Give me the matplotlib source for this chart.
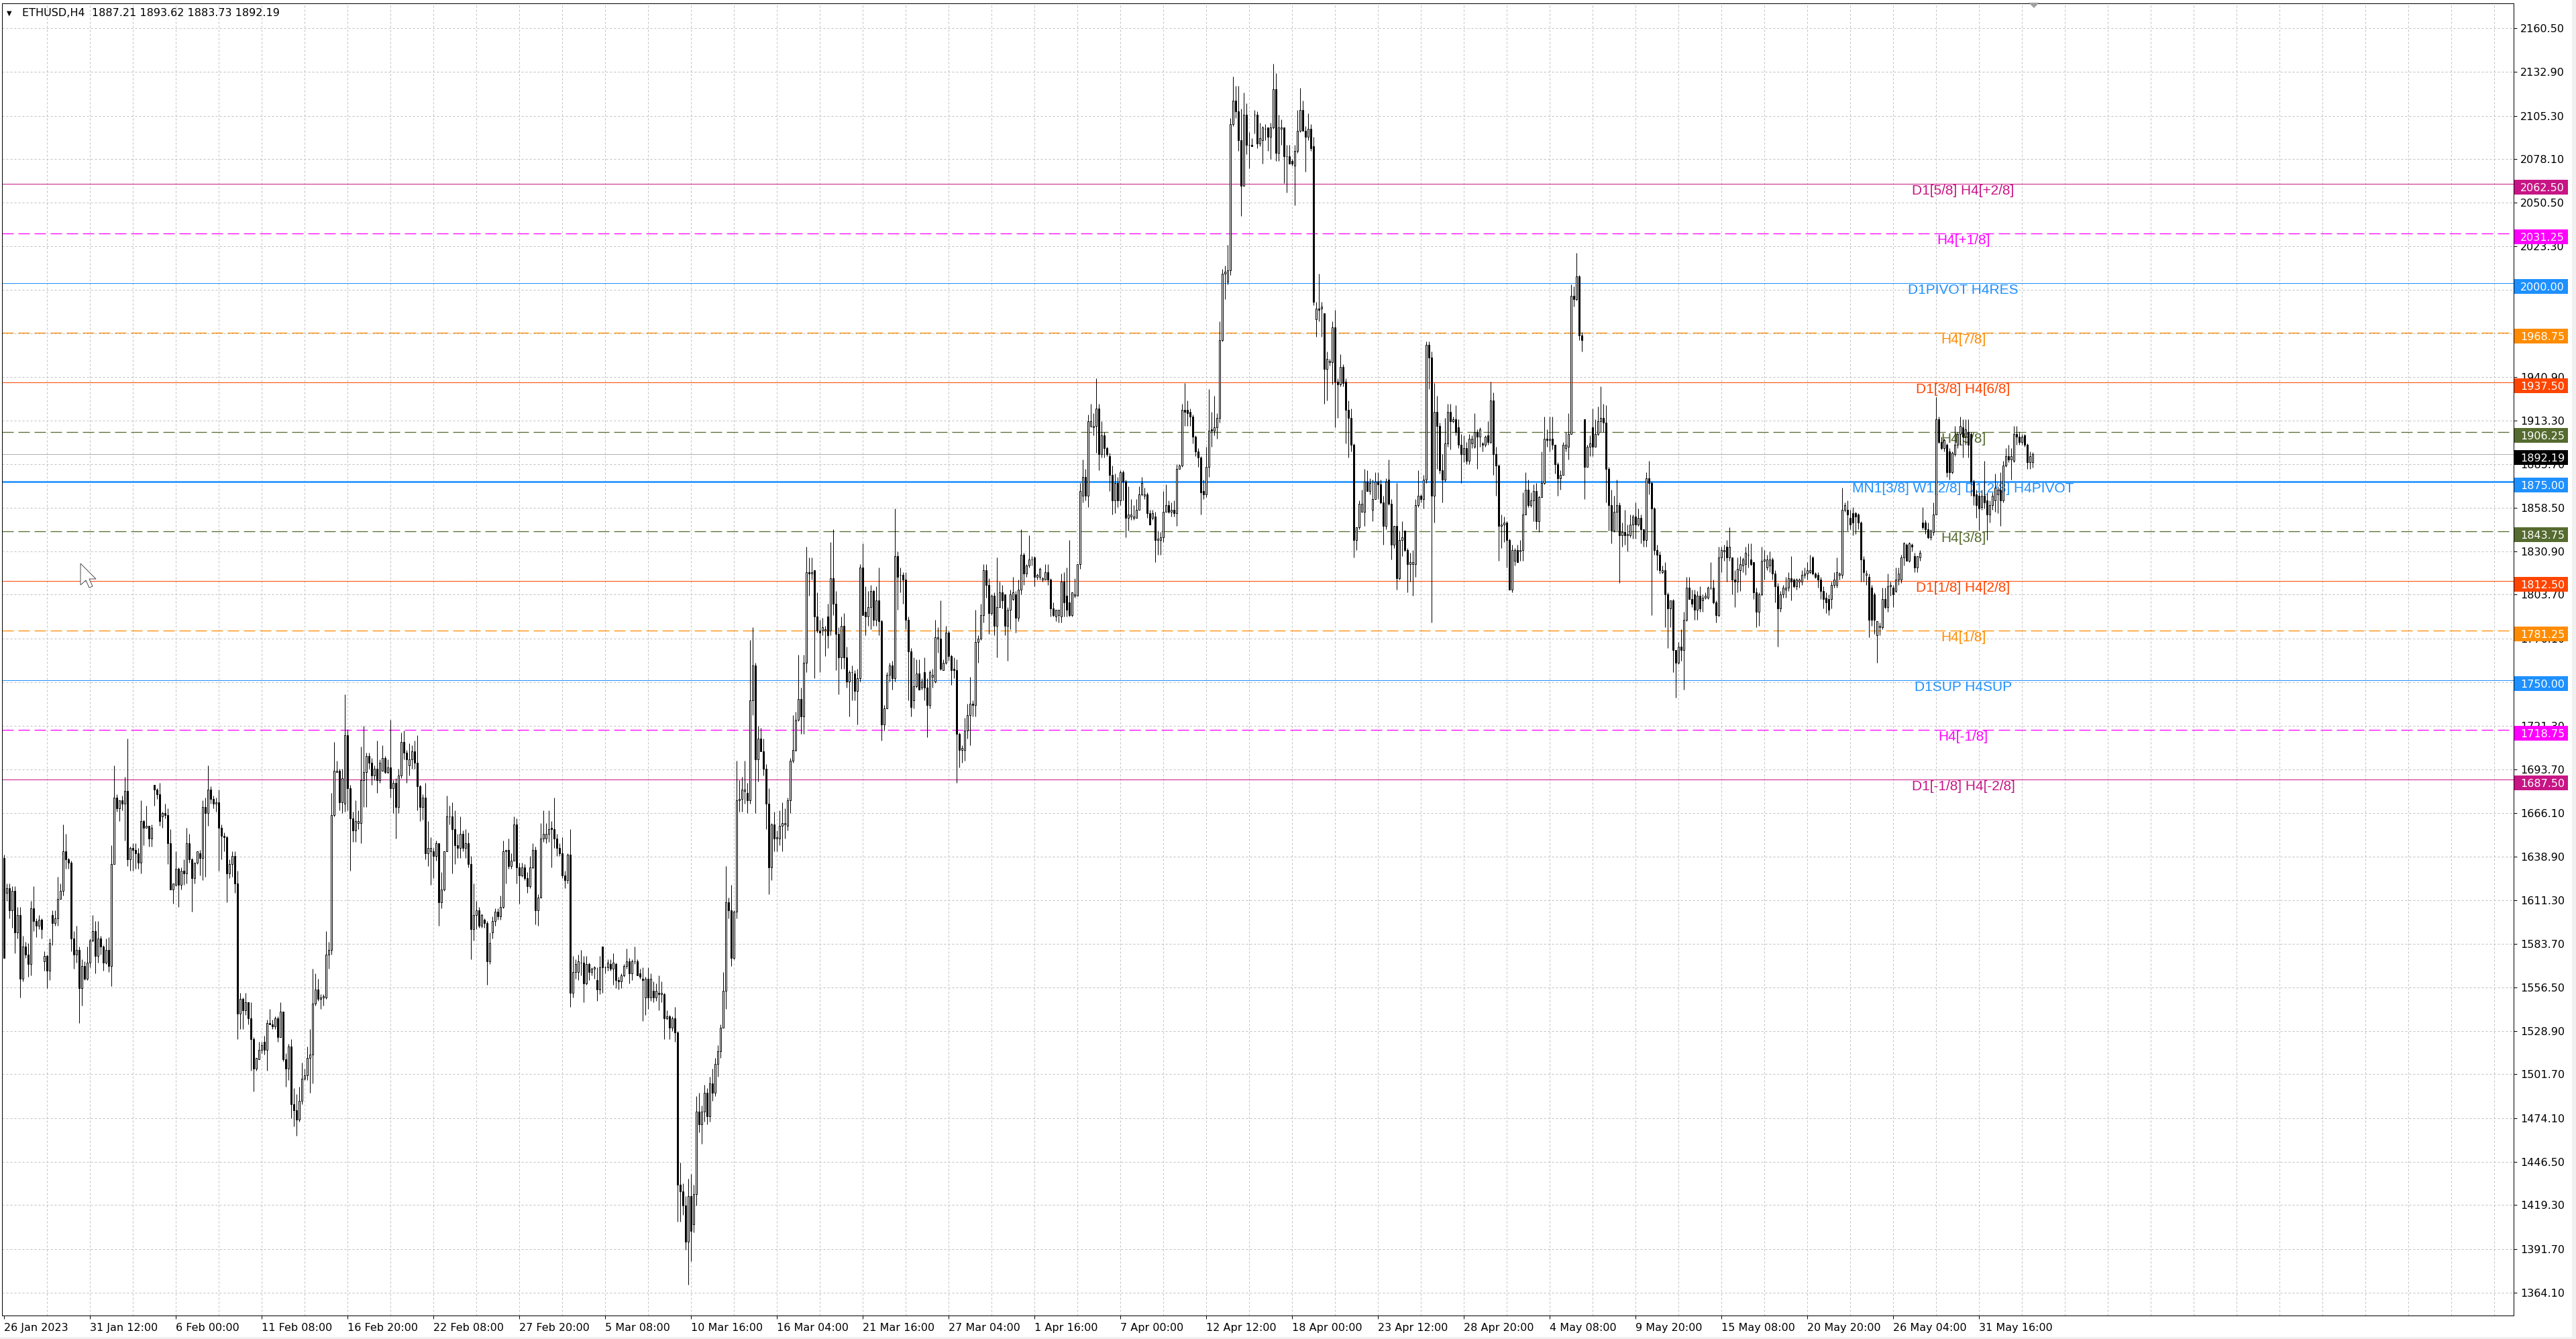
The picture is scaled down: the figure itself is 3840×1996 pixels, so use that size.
import numpy as np
import matplotlib
matplotlib.use('Agg')
import matplotlib.pyplot as plt
from matplotlib.patches import Rectangle, Polygon

plt.rcParams['lines.scale_dashes'] = False
plt.rcParams['font.family'] = ['DejaVu Sans']

# ETHUSD H4 candles (bar 0 = 26 Jan 2023 00:00)
opens = [
    1638,1616,1619,1605,1617,1591,1602,1562,1582,1577, 1571,1606,1598,1595,1599,1573,1576,1567,1602,1597,
    1600,1612,1617,1642,1637,1635,1587,1577,1580,1556, 1570,1562,1572,1586,1592,1576,1587,1582,1572,1580,
    1570,1634,1676,1669,1674,1672,1680,1637,1644,1643, 1641,1635,1661,1657,1658,1650,1684,1681,1678,1664,
    1666,1665,1647,1618,1621,1631,1621,1630,1628,1647, 1637,1625,1635,1641,1638,1670,1666,1681,1675,1672,
    1673,1657,1652,1651,1628,1634,1639,1622,1540,1549, 1542,1547,1537,1524,1505,1511,1517,1522,1517,1534,
    1533,1532,1537,1525,1541,1511,1505,1519,1483,1479, 1473,1485,1499,1501,1512,1514,1546,1555,1549,1550,
    1550,1577,1580,1665,1692,1693,1673,1672,1715,1682, 1663,1655,1660,1660,1687,1692,1702,1698,1690,1694,
    1687,1693,1701,1692,1695,1682,1685,1670,1690,1711, 1704,1696,1700,1705,1698,1683,1670,1676,1641,1642,
    1642,1639,1647,1610,1618,1642,1664,1664,1656,1646, 1644,1653,1644,1647,1634,1593,1602,1605,1595,1599,
    1597,1573,1591,1598,1604,1601,1607,1642,1643,1633, 1636,1659,1632,1627,1632,1625,1620,1632,1643,1605,
    1613,1650,1650,1653,1657,1656,1650,1644,1641,1627, 1624,1640,1553,1566,1566,1572,1572,1559,1571,1566,
    1568,1561,1555,1582,1569,1569,1571,1568,1571,1561, 1560,1564,1570,1573,1565,1573,1573,1565,1562,1550,
    1562,1550,1554,1550,1553,1552,1552,1537,1538,1531, 1537,1528,1432,1428,1419,1396,1425,1407,1426,1478,
    1470,1478,1490,1475,1496,1490,1508,1516,1531,1554, 1610,1605,1575,1604,1674,1675,1680,1679,1674,1737,
    1759,1700,1713,1705,1694,1672,1632,1659,1650,1650, 1658,1659,1658,1674,1699,1706,1725,1738,1727,1761,
    1818,1817,1819,1790,1781,1781,1781,1790,1781,1814, 1798,1779,1764,1784,1764,1749,1755,1754,1743,1751,
    1821,1793,1790,1796,1806,1788,1800,1787,1722,1732, 1753,1759,1751,1828,1816,1816,1813,1788,1768,1737,
    1746,1754,1745,1755,1745,1734,1752,1749,1776,1776, 1756,1761,1780,1765,1757,1756,1716,1706,1706,1718,
    1728,1735,1734,1774,1776,1791,1819,1810,1792,1803, 1784,1796,1805,1804,1784,1794,1801,1804,1789,1807,
    1829,1817,1822,1826,1827,1815,1815,1813,1813,1818, 1813,1795,1790,1791,1790,1812,1803,1799,1791,1803,
    1803,1823,1866,1878,1866,1910,1909,1910,1921,1892, 1904,1896,1891,1879,1863,1874,1863,1881,1875,1852,
    1853,1852,1852,1857,1867,1866,1867,1855,1852,1853, 1838,1838,1840,1856,1860,1856,1857,1855,1883,1885,
    1920,1920,1919,1916,1903,1894,1890,1869,1867,1884, 1908,1907,1909,1915,1964,2006,2001,2008,2100,2115,
    2108,2090,2061,2106,2087,2087,2106,2106,2088,2090, 2097,2098,2092,2098,2122,2082,2097,2098,2080,2080,
    2077,2074,2083,2096,2109,2096,2092,2097,2086,1977, 1984,1984,1981,1946,1950,1950,1972,1938,1936,1947,
    1938,1920,1915,1898,1838,1846,1856,1856,1875,1869, 1857,1864,1875,1873,1862,1847,1876,1861,1835,1847,
    1814,1838,1844,1832,1823,1823,1823,1860,1866,1864, 1876,1961,1953,1866,1919,1910,1882,1876,1899,1919,
    1913,1914,1909,1898,1892,1896,1888,1899,1897,1906, 1903,1899,1898,1904,1900,1926,1892,1885,1847,1848,
    1849,1838,1807,1825,1832,1831,1832,1854,1870,1860, 1863,1869,1850,1865,1874,1902,1901,1902,1898,1886,
    1877,1879,1896,1897,1905,1992,1990,2004,1967,1914, 1884,1897,1909,1897,1905,1913,1915,1912,1883,1860,
    1844,1856,1860,1841,1843,1841,1841,1848,1853,1848, 1852,1845,1838,1877,1874,1858,1832,1829,1818,1819,
    1804,1795,1800,1769,1761,1771,1769,1788,1808,1801, 1804,1794,1803,1800,1802,1802,1808,1808,1799,1791,
    1827,1831,1834,1827,1827,1813,1812,1819,1822,1823, 1829,1826,1824,1805,1793,1804,1825,1821,1822,1826,
    1817,1809,1795,1804,1807,1808,1814,1813,1809,1812, 1812,1816,1817,1818,1827,1817,1816,1813,1806,1802,
    1801,1801,1810,1810,1816,1816,1857,1857,1852,1855, 1855,1854,1849,1826,1816,1815,1808,1804,1778,1783,
    1783,1801,1796,1809,1808,1806,1813,1813,1827,1835, 1825,1835,1828,1821,1827,1849,1849,1845,1840,1843,
    1854,1914,1900,1896,1898,1894,1881,1892,1898,1905, 1909,1903,1906,1905,1875,1867,1866,1859,1866,1863,
    1854,1860,1863,1867,1870,1863,1885,1891,1889,1888, 1905,1903,1900,1904,1898,1887,1887.21,
]
highs = [
    1640,1622,1622,1620,1620,1607,1607,1589,1585,1584, 1611,1620,1600,1602,1600,1579,1577,1587,1605,1605,
    1626,1622,1659,1653,1638,1636,1592,1595,1582,1574, 1573,1582,1587,1602,1598,1598,1589,1583,1587,1588,
    1646,1696,1678,1674,1677,1689,1713,1645,1647,1647, 1644,1674,1662,1671,1658,1659,1684,1682,1685,1667,
    1672,1669,1656,1622,1642,1632,1632,1637,1657,1653, 1638,1635,1642,1643,1674,1676,1696,1683,1677,1676,
    1681,1659,1654,1652,1637,1642,1642,1630,1553,1550, 1553,1547,1547,1525,1512,1522,1522,1526,1536,1543,
    1536,1538,1538,1547,1541,1515,1521,1524,1493,1489, 1494,1509,1505,1519,1530,1568,1565,1562,1552,1552,
    1592,1585,1679,1711,1699,1694,1694,1741,1719,1684, 1667,1674,1668,1708,1721,1704,1704,1701,1696,1712,
    1700,1709,1702,1700,1725,1687,1688,1694,1717,1718, 1706,1710,1709,1712,1715,1684,1678,1685,1661,1651,
    1644,1649,1647,1629,1642,1677,1671,1673,1668,1653, 1664,1655,1656,1654,1639,1622,1611,1607,1603,1600,
    1598,1591,1601,1606,1606,1614,1649,1643,1650,1641, 1664,1663,1635,1635,1634,1629,1639,1647,1645,1615,
    1660,1668,1660,1668,1661,1676,1653,1647,1651,1630, 1641,1656,1576,1574,1577,1580,1576,1576,1572,1569,
    1570,1569,1576,1582,1570,1574,1574,1578,1572,1563, 1565,1571,1581,1575,1574,1582,1574,1568,1569,1563,
    1569,1565,1560,1559,1564,1560,1553,1542,1539,1538, 1544,1529,1446,1433,1425,1436,1439,1432,1488,1490,
    1482,1495,1493,1500,1505,1512,1520,1533,1566,1633, 1613,1621,1605,1699,1687,1689,1699,1685,1775,1783,
    1761,1721,1720,1713,1697,1682,1660,1667,1655,1668, 1673,1669,1676,1701,1728,1730,1766,1745,1766,1834,
    1827,1827,1819,1805,1788,1789,1784,1798,1837,1845, 1806,1783,1790,1792,1771,1756,1759,1756,1757,1823,
    1836,1809,1806,1810,1807,1809,1821,1788,1734,1755, 1761,1762,1858,1831,1821,1818,1818,1790,1770,1764,
    1763,1763,1751,1764,1751,1756,1757,1788,1783,1800, 1763,1784,1781,1766,1764,1763,1717,1709,1726,1735,
    1752,1737,1794,1778,1798,1823,1823,1814,1804,1805, 1827,1812,1810,1804,1796,1807,1815,1806,1813,1845,
    1830,1823,1841,1828,1828,1817,1821,1815,1823,1823, 1814,1799,1794,1794,1817,1818,1821,1838,1805,1814,
    1823,1874,1889,1883,1917,1924,1918,1940,1924,1913, 1906,1897,1893,1885,1880,1878,1882,1882,1876,1872,
    1864,1860,1864,1872,1878,1871,1868,1857,1857,1856, 1844,1843,1869,1873,1863,1862,1863,1886,1886,1924,
    1937,1926,1921,1917,1904,1896,1891,1876,1897,1933, 1919,1929,1918,1976,2009,2011,2024,2104,2130,2124,
    2124,2110,2120,2113,2095,2091,2109,2108,2101,2099, 2100,2098,2101,2138,2132,2106,2103,2098,2087,2087,
    2078,2087,2109,2123,2115,2099,2107,2100,2092,1988, 2006,1988,1981,1957,1952,1976,1983,1940,1955,1949,
    1940,1926,1921,1899,1846,1863,1870,1883,1882,1877, 1876,1881,1881,1876,1866,1877,1889,1864,1847,1874,
    1844,1850,1844,1833,1830,1832,1864,1882,1867,1879, 1963,1963,1957,1937,1929,1912,1892,1915,1924,1924,
    1916,1923,1914,1905,1904,1900,1905,1904,1918,1908, 1909,1900,1904,1913,1938,1931,1897,1886,1854,1853,
    1850,1839,1835,1833,1835,1838,1868,1881,1876,1868, 1873,1874,1866,1894,1916,1908,1916,1916,1898,1887,
    1882,1900,1906,1918,1999,1998,2019,2005,1969,1914, 1898,1904,1921,1914,1922,1935,1924,1923,1884,1870,
    1866,1876,1862,1849,1857,1848,1854,1854,1862,1858, 1854,1845,1881,1888,1875,1859,1835,1831,1822,1824,
    1805,1800,1801,1769,1774,1782,1793,1815,1815,1807, 1807,1806,1809,1804,1805,1809,1824,1813,1800,1834,
    1834,1835,1838,1846,1827,1819,1827,1828,1827,1834, 1836,1836,1824,1808,1805,1834,1832,1829,1831,1827,
    1819,1811,1806,1810,1815,1818,1828,1814,1814,1814, 1819,1821,1824,1829,1828,1818,1818,1815,1809,1805,
    1804,1812,1818,1827,1818,1871,1862,1863,1857,1859, 1856,1855,1850,1828,1819,1817,1810,1805,1787,1786,
    1808,1808,1817,1812,1810,1821,1821,1829,1837,1836, 1837,1836,1830,1828,1832,1859,1851,1849,1845,1862,
    1928,1916,1903,1902,1899,1896,1894,1910,1906,1916, 1914,1914,1914,1906,1876,1870,1868,1870,1888,1868,
    1863,1868,1880,1872,1881,1888,1896,1898,1896,1910, 1910,1906,1905,1905,1899,1894,1893.62,
]
lows = [
    1575,1611,1600,1594,1578,1587,1550,1560,1575,1563, 1564,1592,1588,1593,1587,1567,1556,1561,1583,1595,
    1595,1612,1614,1631,1631,1579,1568,1572,1534,1545, 1561,1561,1569,1585,1565,1572,1577,1567,1571,1566,
    1557,1634,1667,1661,1668,1649,1633,1630,1630,1631, 1631,1628,1646,1657,1645,1645,1671,1675,1658,1657,
    1663,1634,1618,1609,1620,1607,1618,1621,1622,1635, 1604,1622,1634,1627,1624,1626,1658,1672,1669,1667,
    1630,1637,1642,1610,1625,1626,1616,1524,1530,1530, 1539,1533,1504,1491,1504,1511,1515,1514,1504,1533,
    1530,1530,1522,1525,1510,1494,1498,1474,1469,1463, 1472,1483,1498,1498,1490,1496,1545,1548,1543,1545,
    1549,1568,1577,1664,1692,1668,1666,1667,1668,1630, 1648,1648,1656,1647,1670,1670,1694,1684,1687,1679,
    1685,1693,1691,1691,1676,1666,1650,1666,1688,1700, 1685,1690,1694,1694,1668,1661,1662,1637,1633,1621,
    1625,1636,1595,1606,1617,1642,1659,1628,1634,1638, 1638,1642,1638,1632,1574,1586,1593,1594,1594,1594,
    1558,1571,1587,1595,1599,1599,1606,1622,1631,1631, 1636,1622,1609,1626,1624,1616,1619,1631,1596,1595,
    1613,1648,1647,1648,1632,1644,1639,1639,1625,1619, 1622,1544,1550,1562,1561,1564,1547,1558,1561,1564,
    1562,1548,1552,1553,1565,1567,1567,1558,1556,1555, 1556,1563,1568,1559,1561,1571,1564,1562,1535,1539,
    1543,1548,1547,1548,1542,1547,1524,1536,1524,1529, 1522,1409,1409,1413,1391,1369,1384,1402,1419,1465,
    1458,1472,1470,1472,1485,1488,1500,1512,1531,1543, 1600,1570,1574,1600,1667,1667,1672,1666,1672,1728,
    1666,1686,1705,1690,1656,1615,1624,1642,1642,1646, 1642,1650,1655,1666,1698,1705,1724,1716,1716,1755,
    1803,1813,1751,1780,1755,1778,1765,1770,1778,1791, 1756,1741,1757,1757,1745,1727,1737,1737,1722,1749,
    1791,1778,1784,1782,1784,1784,1778,1712,1718,1732, 1749,1744,1749,1794,1805,1798,1782,1737,1727,1732,
    1745,1744,1744,1737,1714,1732,1745,1748,1767,1756, 1756,1760,1762,1747,1751,1685,1695,1698,1699,1713,
    1709,1727,1727,1761,1775,1786,1802,1779,1791,1778, 1764,1796,1795,1778,1762,1782,1800,1780,1787,1804,
    1810,1815,1821,1822,1809,1813,1813,1812,1813,1810, 1790,1790,1787,1786,1786,1790,1790,1790,1790,1802,
    1803,1820,1862,1863,1859,1909,1904,1893,1882,1890, 1890,1891,1869,1854,1855,1859,1860,1863,1840,1844,
    1851,1851,1852,1857,1866,1864,1852,1848,1851,1824, 1829,1829,1837,1856,1855,1853,1853,1847,1883,1884,
    1910,1910,1910,1899,1891,1884,1854,1864,1865,1878, 1897,1904,1902,1912,1963,1990,1999,2005,2099,2104,
    2083,2042,2061,2081,2072,2086,2094,2085,2086,2075, 2090,2083,2078,2097,2077,2077,2087,2063,2057,2075,
    2074,2049,2082,2095,2096,2070,2090,2083,1986,1966, 1976,1966,1924,1926,1948,1936,1909,1915,1935,1935,
    1899,1890,1894,1827,1832,1845,1856,1847,1869,1867, 1850,1864,1864,1861,1835,1845,1860,1826,1833,1807,
    1813,1828,1831,1805,1812,1803,1815,1859,1862,1858, 1874,1933,1786,1849,1883,1880,1862,1875,1897,1895,
    1912,1904,1896,1874,1887,1886,1886,1896,1896,1883, 1897,1894,1897,1898,1899,1879,1866,1825,1833,1837,
    1821,1807,1805,1822,1824,1825,1825,1854,1859,1859, 1850,1845,1843,1865,1873,1897,1894,1895,1880,1866,
    1870,1879,1894,1889,1905,1985,1989,1964,1957,1864, 1884,1891,1891,1897,1904,1906,1906,1862,1844,1836,
    1843,1844,1811,1834,1835,1831,1840,1839,1839,1847, 1836,1834,1834,1867,1791,1829,1819,1817,1817,1783,
    1770,1783,1755,1739,1760,1762,1744,1787,1801,1796, 1788,1788,1793,1793,1801,1801,1807,1798,1786,1790,
    1818,1825,1812,1825,1804,1796,1805,1806,1818,1816, 1821,1822,1801,1783,1784,1803,1813,1819,1818,1813,
    1799,1771,1793,1802,1802,1806,1800,1808,1807,1808, 1810,1814,1813,1817,1816,1814,1808,1801,1795,1792,
    1791,1795,1808,1808,1813,1814,1856,1844,1845,1841, 1842,1845,1812,1812,1810,1777,1784,1779,1761,1778,
    1782,1795,1793,1803,1796,1805,1810,1811,1822,1825, 1824,1831,1818,1818,1825,1845,1842,1839,1838,1841,
    1854,1899,1895,1894,1878,1876,1880,1891,1896,1898, 1890,1898,1890,1866,1860,1852,1844,1857,1858,1838,
    1849,1857,1856,1855,1847,1862,1884,1887,1876,1887, 1898,1898,1898,1897,1883,1883,1883.73,
]
closes = [
    1575,1619,1605,1617,1591,1602,1562,1582,1577,1571, 1606,1598,1595,1599,1593,1576,1567,1584,1597,1600,
    1612,1617,1642,1637,1635,1587,1577,1580,1556,1570, 1562,1572,1586,1592,1576,1587,1582,1572,1580,1570,
    1634,1676,1669,1674,1672,1680,1637,1644,1643,1641, 1635,1661,1657,1658,1650,1657,1681,1678,1661,1666,
    1665,1647,1618,1622,1631,1621,1630,1628,1647,1637, 1625,1635,1642,1638,1670,1666,1681,1675,1672,1673,
    1657,1652,1651,1628,1634,1639,1622,1540,1549,1542, 1547,1537,1524,1505,1512,1517,1520,1517,1534,1533,
    1532,1537,1525,1541,1511,1505,1519,1483,1479,1473, 1485,1499,1501,1512,1514,1546,1555,1549,1550,1551,
    1577,1580,1665,1693,1693,1673,1688,1715,1682,1663, 1655,1661,1661,1687,1692,1702,1698,1690,1694,1687,
    1698,1701,1692,1695,1682,1685,1670,1690,1711,1704, 1700,1700,1705,1698,1683,1670,1676,1641,1644,1644,
    1639,1647,1610,1618,1642,1664,1664,1656,1646,1644, 1653,1644,1647,1634,1593,1602,1605,1595,1602,1597,
    1573,1584,1598,1604,1601,1607,1642,1643,1633,1636, 1659,1632,1627,1632,1625,1620,1632,1643,1605,1613,
    1650,1653,1653,1656,1656,1650,1644,1641,1627,1624, 1640,1553,1566,1571,1573,1572,1559,1571,1566,1568,
    1569,1555,1569,1569,1569,1572,1568,1572,1561,1560, 1564,1570,1573,1565,1573,1573,1564,1563,1561,1562,
    1550,1562,1550,1554,1552,1553,1537,1538,1531,1537, 1528,1432,1428,1419,1396,1425,1403,1426,1478,1470,
    1478,1490,1475,1496,1490,1508,1516,1531,1554,1610, 1605,1575,1604,1674,1675,1681,1681,1674,1737,1759,
    1700,1713,1705,1694,1672,1632,1659,1650,1651,1658, 1660,1660,1674,1699,1706,1725,1738,1727,1761,1818,
    1817,1818,1790,1781,1780,1783,1782,1778,1814,1798, 1779,1764,1784,1764,1749,1755,1755,1743,1751,1821,
    1791,1790,1796,1806,1788,1800,1787,1722,1732,1753, 1759,1751,1828,1815,1816,1813,1788,1768,1733,1746,
    1754,1744,1749,1745,1734,1755,1753,1777,1777,1757, 1761,1780,1765,1756,1756,1716,1706,1707,1718,1728,
    1735,1734,1774,1776,1791,1819,1810,1792,1803,1784, 1796,1805,1800,1784,1794,1804,1805,1789,1807,1829,
    1817,1822,1826,1826,1815,1816,1820,1814,1818,1813, 1795,1791,1794,1794,1812,1799,1794,1791,1805,1804,
    1823,1869,1878,1866,1913,1913,1910,1921,1892,1904, 1896,1892,1879,1863,1874,1863,1881,1875,1852,1854,
    1854,1853,1857,1867,1874,1867,1855,1848,1855,1838, 1839,1840,1856,1860,1856,1857,1855,1883,1885,1920,
    1919,1918,1916,1903,1894,1890,1868,1867,1884,1907, 1907,1909,1915,1964,2006,2007,2008,2100,2115,2108,
    2090,2061,2106,2087,2087,2086,2106,2088,2091,2098, 2097,2092,2098,2122,2082,2098,2098,2080,2080,2075,
    2075,2083,2096,2109,2096,2092,2097,2085,1988,1984, 1983,1985,1946,1952,1951,1972,1938,1936,1947,1937,
    1920,1915,1898,1838,1846,1861,1861,1875,1869,1874, 1864,1875,1873,1862,1847,1875,1861,1835,1847,1814,
    1838,1840,1832,1823,1824,1824,1860,1866,1864,1876, 1961,1953,1866,1919,1910,1882,1876,1899,1919,1913,
    1914,1906,1898,1892,1896,1888,1902,1902,1906,1903, 1908,1898,1903,1900,1926,1892,1885,1847,1848,1849,
    1838,1807,1832,1832,1824,1832,1854,1870,1860,1863, 1869,1850,1865,1874,1902,1901,1902,1898,1886,1877,
    1879,1898,1898,1905,1992,1990,2004,1967,1964,1884, 1897,1899,1897,1905,1913,1915,1912,1883,1860,1844,
    1856,1860,1841,1843,1841,1842,1848,1853,1848,1852, 1845,1838,1877,1874,1858,1832,1829,1819,1819,1804,
    1795,1800,1769,1761,1771,1769,1788,1808,1801,1798, 1794,1803,1795,1802,1803,1808,1808,1799,1791,1827,
    1832,1832,1827,1834,1813,1812,1820,1823,1826,1830, 1829,1823,1805,1793,1804,1825,1826,1826,1826,1817,
    1809,1795,1804,1808,1808,1814,1812,1809,1813,1813, 1816,1817,1819,1819,1817,1815,1813,1806,1801,1799,
    1794,1810,1813,1818,1817,1857,1860,1854,1848,1849, 1853,1849,1826,1818,1817,1788,1788,1788,1787,1784,
    1801,1796,1809,1810,1804,1813,1817,1827,1836,1825, 1836,1834,1821,1828,1830,1846,1845,1840,1844,1854,
    1914,1900,1896,1901,1881,1881,1893,1898,1905,1910, 1903,1908,1898,1875,1866,1860,1858,1866,1862,1854,
    1860,1866,1871,1870,1863,1885,1891,1889,1891,1905, 1903,1900,1903,1898,1887,1891,1892.19,
]

date_labels = ['26 Jan 2023', '31 Jan 12:00', '6 Feb 00:00', '11 Feb 08:00', '16 Feb 20:00',
               '22 Feb 08:00', '27 Feb 20:00', '5 Mar 08:00', '10 Mar 16:00', '16 Mar 04:00',
               '21 Mar 16:00', '27 Mar 04:00', '1 Apr 16:00', '7 Apr 00:00', '12 Apr 12:00',
               '18 Apr 00:00', '23 Apr 12:00', '28 Apr 20:00', '4 May 08:00', '9 May 20:00',
               '15 May 08:00', '20 May 20:00', '26 May 04:00', '31 May 16:00']

price_ticks = [2160.50, 2132.90, 2105.30, 2078.10, 2050.50, 2023.30, 1995.70, 1968.10, 1940.90,
               1913.30, 1885.70, 1858.50, 1830.90, 1803.70, 1776.10, 1748.50, 1721.30, 1693.70,
               1666.10, 1638.90, 1611.30, 1583.70, 1556.50, 1528.90, 1501.70, 1474.10, 1446.50,
               1419.30, 1391.70, 1364.10]

level_prices = [2062.50, 2031.25, 2000.00, 1968.75, 1937.50, 1906.25, 1875.00,
                1843.75, 1812.50, 1781.25, 1750.00, 1718.75, 1687.50]
level_names = ['D1[5/8] H4[+2/8]', 'H4[+1/8]', 'D1PIVOT H4RES', 'H4[7/8]', 'D1[3/8] H4[6/8]',
               'H4[5/8]', 'MN1[3/8] W1[2/8] D1[2/8] H4PIVOT', 'H4[3/8]', 'D1[1/8] H4[2/8]',
               'H4[1/8]', 'D1SUP H4SUP', 'H4[-1/8]', 'D1[-1/8] H4[-2/8]']
level_colors = ['#C71585', '#FF00FF', '#1E90FF', '#FF8C00', '#FF4500', '#556B2F', '#1E90FF',
                '#556B2F', '#FF4500', '#FF8C00', '#1E90FF', '#FF00FF', '#C71585']
level_dashed = [False, True, False, True, False, True, False, True, False, True, False, True, False]

last_price = 1892.19
title = 'ETHUSD,H4  1887.21 1893.62 1883.73 1892.19'

n = min(len(opens), len(highs), len(lows), len(closes))
o = np.array(opens[:n], dtype=float)
c = np.array(closes[:n], dtype=float)
h = np.maximum(np.array(highs[:n], dtype=float), np.maximum(o, c))
l = np.minimum(np.array(lows[:n], dtype=float), np.minimum(o, c))
x = np.arange(n)

W, H = 3840, 1996
PX = 0.72  # one pixel in points at dpi 100
PPX = 0.4225  # price units per pixel

fig = plt.figure(figsize=(W / 100, H / 100), dpi=100, facecolor='#F0F0F0')
fig.patches.append(Rectangle((0, 3 / H), 3834 / W, 1, transform=fig.transFigure,
                             facecolor='white', edgecolor='none', zorder=-5))

# plot area: x 3..3747 px, y 5..1961 px, bar i sits at pixel 5.5 + 4 i
ax = fig.add_axes([3 / W, 1 - 1961 / H, 3744 / W, 1956 / H])
ax.set_xlim(-0.625, 935.375)
ax.set_ylim(1349.72, 2176.13)
ax.set_facecolor('white')
for s in ax.spines.values():
    s.set_color('black')
    s.set_linewidth(PX)

# grid
for p in price_ticks:
    ax.axhline(p, color='#C0C0C0', lw=PX, dashes=(3 * PX, 3 * PX), zorder=0.6)
for i in range(16, 936, 16):
    ax.axvline(i, color='#C0C0C0', lw=PX, dashes=(3 * PX, 3 * PX), zorder=0.6)

# level lines with labels
for p, name, col, dsh in zip(level_prices, level_names, level_colors, level_dashed):
    if dsh:
        ax.axhline(p, color=col, lw=1.3 * PX, dashes=(17 * PX, 7 * PX), zorder=1)
    elif p == 1875.00:
        ax.axhline(p, color=col, lw=2.6 * PX, zorder=1)
    else:
        ax.axhline(p, color=col, lw=PX, zorder=1)
    ax.text(730.25, p - 11 * PPX, name, color=col, ha='center', va='center',
            fontsize=15, family='Liberation Sans', zorder=1.2)

ax.axhline(last_price, color='#B0B0B0', lw=PX, zorder=1)

# candles
ax.vlines(x, l, h, color='black', lw=PX, zorder=3)
up = c >= o
ax.bar(x, np.abs(c - o), bottom=np.minimum(o, c), width=0.5,
       color=np.where(up, 'white', 'black'), edgecolor='black', linewidth=PX, zorder=4)

# price scale
ax.yaxis.tick_right()
ax.set_yticks(price_ticks)
ax.set_yticklabels(['%.2f' % p for p in price_ticks])
ax.tick_params(axis='y', direction='out', length=5 * PX, width=PX, pad=5 * PX,
               labelsize=11.5, colors='black')

# time scale
ax.set_xticks(range(0, 32 * len(date_labels), 32))
ax.set_xticklabels(date_labels)
for lab in ax.get_xticklabels():
    lab.set_horizontalalignment('left')
ax.tick_params(axis='x', direction='out', length=5 * PX, width=PX, pad=6 * PX,
               labelsize=11.5, colors='black')

# coloured price boxes on the scale, sitting slightly below their lines
trans = ax.get_yaxis_transform()
bx0 = (3748 - 3) / 3744
bw = (3828 - 3748) / 3744
tx = (3757 - 3) / 3744
box_prices = level_prices + [last_price]
box_colors = level_colors + ['black']
for p, col in zip(box_prices, box_colors):
    yc = p - 5 * PPX
    ax.add_patch(Rectangle((bx0, yc - 11 * PPX), bw, 22 * PPX, transform=trans, clip_on=False,
                           facecolor=col, edgecolor='none', zorder=5))
    ax.text(tx, yc, '%.2f' % p, transform=trans, color='white', ha='left',
            va='center_baseline', fontsize=11.5, clip_on=False, zorder=6)

# title
fig.text(10 / W, 1 - 20 / H, '\u25BC', fontsize=7, va='center', ha='left')
fig.text(33 / W, 1 - 20 / H, title, fontsize=11.5, va='center', ha='left')

# chart shift marker
tri = [(3024, 4), (3040, 4), (3032, 12)]
fig.patches.append(Polygon([(px / W, 1 - py / H) for px, py in tri], closed=True,
                           transform=fig.transFigure, facecolor='#A0A0A0', edgecolor='none'))

# mouse cursor
cur = [(120, 840), (120, 872), (128, 865), (133, 876), (138, 874), (133, 863), (143, 863)]
fig.patches.append(Polygon([(px / W, 1 - py / H) for px, py in cur], closed=True,
                           transform=fig.transFigure, facecolor='white', edgecolor='#505050',
                           linewidth=PX, zorder=10))

fig.savefig('out.png', dpi=100, facecolor=fig.get_facecolor())
